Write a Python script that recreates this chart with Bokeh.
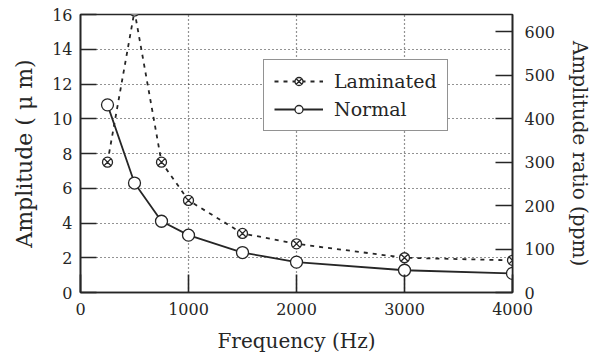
from bokeh.plotting import figure
from bokeh.models import (LinearAxis, Range1d, FixedTicker, Legend, LegendItem)
from bokeh.embed import file_html
from bokeh.resources import INLINE

freq = [250, 500, 750, 1000, 1500, 2000, 3000, 4000]
laminated = [7.5, 16.2, 7.5, 5.3, 3.4, 2.8, 2.0, 1.85]
normal = [10.8, 6.3, 4.1, 3.3, 2.3, 1.75, 1.28, 1.1]

x_ticks = [0, 1000, 2000, 3000, 4000]
y_ticks = [0, 2, 4, 6, 8, 10, 12, 14, 16]
ratio_ticks = [0, 100, 200, 300, 400, 500, 600]

FONT = "DejaVu Serif"
INK = "#262626"

p = figure(width=595, height=355, x_range=Range1d(0, 4000), y_range=Range1d(0, 16),
           output_backend="svg", toolbar_location=None,
           min_border_left=80, min_border_right=83, min_border_top=14, min_border_bottom=63)
p.title.visible = False
p.background_fill_color = "white"
p.outline_line_color = INK
p.outline_line_width = 1.6

p.extra_y_ranges = {"ratio": Range1d(0, 640)}

# axes
p.xaxis.ticker = FixedTicker(ticks=x_ticks)
p.yaxis.ticker = FixedTicker(ticks=y_ticks)
for ax in [p.xaxis[0], p.yaxis[0]]:
    ax.major_tick_out = 0
    ax.minor_tick_line_color = None
    ax.axis_line_color = INK
    ax.axis_line_width = 1.6
    ax.major_tick_line_color = INK
    ax.major_tick_line_width = 1.6
    ax.major_label_text_font = FONT
    ax.major_label_text_font_size = "16px"
    ax.major_label_text_color = INK
    ax.axis_label_text_font = FONT
    ax.axis_label_text_font_style = "normal"
    ax.axis_label_text_color = INK

p.xaxis.major_tick_in = 18
p.yaxis.major_tick_in = 16
p.xaxis.major_label_standoff = 10
p.yaxis.major_label_standoff = 8
p.xaxis.axis_label = "Frequency (Hz)"
p.xaxis.axis_label_text_font_size = "20px"
p.xaxis.axis_label_standoff = 11
p.yaxis.axis_label = "Amplitude ( \u03bc m)"
p.yaxis.axis_label_text_font_size = "22px"
p.yaxis.axis_label_standoff = 12

rax = LinearAxis(y_range_name="ratio", ticker=FixedTicker(ticks=ratio_ticks),
                 axis_label="Amplitude ratio (ppm)")
rax.major_tick_in = 17
rax.major_tick_out = 0
rax.minor_tick_line_color = None
rax.axis_line_color = INK
rax.axis_line_width = 1.6
rax.major_tick_line_color = INK
rax.major_tick_line_width = 1.6
rax.major_label_text_font = FONT
rax.major_label_text_font_size = "16px"
rax.major_label_text_color = INK
rax.major_label_standoff = 12
rax.axis_label_text_font = FONT
rax.axis_label_text_font_size = "20px"
rax.axis_label_text_font_style = "normal"
rax.axis_label_text_color = INK
rax.axis_label_standoff = 10
p.add_layout(rax, "right")

# grids
p.xgrid.ticker = FixedTicker(ticks=[1000, 2000, 3000])
p.ygrid.ticker = FixedTicker(ticks=[2, 4, 6, 8, 10, 12, 14])
for g in [p.xgrid[0], p.ygrid[0]]:
    g.grid_line_color = INK
    g.grid_line_dash = "1 3"
    g.grid_line_width = 1.2

# data
l1 = p.line(freq, laminated, line_color=INK, line_width=1.8, line_dash="4 5")
l2 = p.line(freq, normal, line_color=INK, line_width=1.8)
m1 = p.scatter(freq, laminated, marker="circle_x", size=10, fill_color="white",
               line_color=INK, line_width=1.3)
m2 = p.scatter(freq, normal, marker="circle", size=12, fill_color="white",
               line_color=INK, line_width=1.3)

legend = Legend(items=[LegendItem(label="Laminated", renderers=[l1, m1]),
                       LegendItem(label="Normal", renderers=[l2, m2])],
                location=(183, 161))
legend.label_text_font = FONT
legend.label_text_font_size = "19px"
legend.label_text_color = INK
legend.glyph_width = 49
legend.glyph_height = 20
legend.label_height = 20
legend.label_standoff = 11
legend.spacing = 6
legend.padding = 10
legend.margin = 0
legend.border_line_color = INK
legend.border_line_width = 1.6
legend.background_fill_alpha = 1.0
p.add_layout(legend, "center")

open("out.html", "w").write(file_html(p, INLINE))
